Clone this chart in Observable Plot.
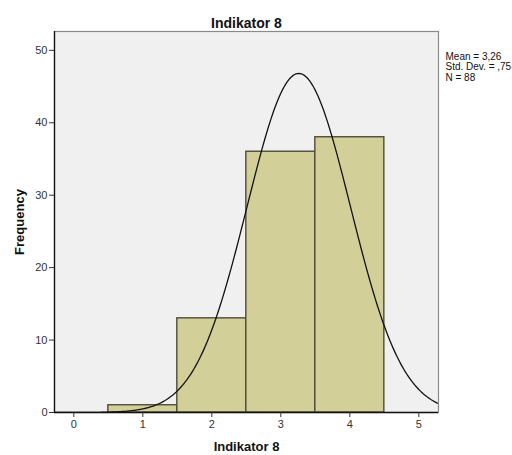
<!DOCTYPE html>
<html>
<head>
<meta charset="utf-8">
<script src="https://cdn.jsdelivr.net/npm/d3@7"></script>
<script src="https://cdn.jsdelivr.net/npm/@observablehq/plot@0.6"></script>
<style>
  body { margin: 0; background: #fff; }
  svg { display: block; }
</style>
</head>
<body>
<div id="chart"></div>
<script>
// Histogram bins (lower edge, upper edge) and frequencies
const binStart = [0.5, 1.5, 2.5, 3.5];
const binEnd = [1.5, 2.5, 3.5, 4.5];
const frequency = [1, 13, 36, 38];
// Summary statistics shown on the chart
const statMean = 3.26;
const statSD = 0.75;
const statN = 88;
const statLines = ["Mean = 3,26", "Std. Dev. = ,75", "N = 88"];
// Tick labels
const xTicks = [0, 1, 2, 3, 4, 5];
const yTicks = [0, 10, 20, 30, 40, 50];
const titleText = "Indikator 8";
const xLabel = "Indikator 8";
const yLabel = "Frequency";

const bins = binStart.map((s, i) => ({x1: s, x2: binEnd[i], y: frequency[i]}));

const xDomain = [-0.28, 5.285];
const binWidth = 1;
const curve = d3.range(xDomain[0], xDomain[1] + 0.001, 0.02).map(x => ({
  x,
  y: statN * binWidth * Math.exp(-0.5 * ((x - statMean) / statSD) ** 2) / (statSD * Math.sqrt(2 * Math.PI))
}));

const chart = Plot.plot({
  width: 512,
  height: 455,
  marginLeft: 54,
  marginRight: 74,
  marginTop: 31,
  marginBottom: 43,
  style: {fontFamily: "'Liberation Sans', Arial, sans-serif", fontSize: "11px", color: "#222", background: "#fff"},
  x: {domain: xDomain},
  y: {domain: [0, 52.6]},
  marks: [
    Plot.frame({fill: "#f0f0f0", stroke: "#8a8a8a", strokeWidth: 1.2}),
    Plot.rectY(bins, {x1: "x1", x2: "x2", y: "y", fill: "#d3cf99", stroke: "#4d4c3a", strokeWidth: 1.4, inset: 0}),
    Plot.line(curve, {x: "x", y: "y", stroke: "#111", strokeWidth: 1.3, clip: true}),
    Plot.ruleX([xDomain[0]], {stroke: "#111", strokeWidth: 1.3}),
    Plot.ruleY([0], {stroke: "#111", strokeWidth: 1.3}),
    Plot.axisY({ticks: yTicks, tickFormat: d3.format("d"), tickSize: 5, tickPadding: 2, label: yLabel, labelAnchor: "center", labelOffset: 40, fontSize: 11, color: "#333"}),
    Plot.axisX({ticks: xTicks, tickFormat: d3.format("d"), tickSize: 5, tickPadding: 3, label: xLabel, labelAnchor: "center", labelOffset: 38, fontSize: 11, color: "#333"}),
    Plot.text([titleText], {frameAnchor: "top", dy: -13, fontWeight: "bold", fontSize: 14, fill: "#111"}),
    Plot.text([statLines.join("\n")], {frameAnchor: "top-right", dx: 7, dy: 21, textAnchor: "start", lineAnchor: "top", fontSize: 10, lineHeight: 1.05, fill: "#111"})
  ]
});

// style axis labels bold and drop the direction arrows
chart.querySelectorAll('[aria-label="x-axis label"] text, [aria-label="y-axis label"] text').forEach(t => {
  t.setAttribute("font-weight", "bold");
  t.setAttribute("font-size", "13");
  t.setAttribute("fill", "#111");
  t.textContent = t.textContent.replace(/\s*[↑→←↓]\s*/g, "");
});
document.getElementById("chart").appendChild(chart);
</script>
</body>
</html>
